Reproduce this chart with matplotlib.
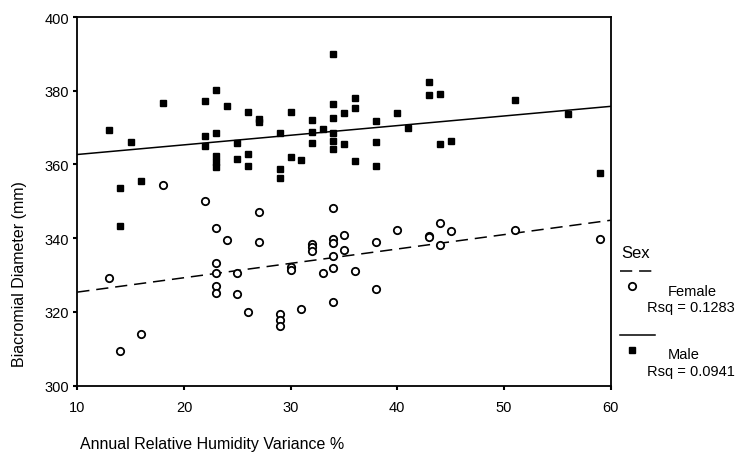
import numpy as np
import matplotlib
matplotlib.use("Agg")
import matplotlib.pyplot as plt
from matplotlib.lines import Line2D

plt.rcParams['font.family'] = ['Liberation Sans', 'DejaVu Sans']

# --- data ---
male_x = [13, 15, 18, 22, 23, 24, 26, 27, 27, 30, 32, 33,
          22, 22, 23, 23, 23, 23, 25, 25, 26, 26, 29, 29, 29, 30, 31, 32, 32,
          14, 16, 14,
          34, 34, 34, 35, 36, 36, 34, 34, 34, 35, 36, 38, 38, 38,
          40, 41, 43, 43, 44, 44, 45, 51, 56, 59]
male_y = [369.4, 366.0, 376.8, 377.2, 380.2, 375.9, 374.2, 372.4, 371.4, 374.2, 372.1, 369.6,
          367.7, 365.1, 368.5, 362.2, 360.8, 359.4, 365.9, 361.4, 362.8, 359.5, 368.6, 358.8, 356.3,
          362.1, 361.1, 368.8, 365.7,
          353.5, 355.6, 343.4,
          390.1, 376.3, 372.7, 373.9, 378.1, 375.4, 368.6, 366.5, 364.1, 365.5, 361.0, 371.8, 366.0, 359.5,
          373.9, 370.0, 382.3, 378.8, 379.2, 365.5, 366.5, 377.4, 373.8, 357.8]

female_x = [18, 22, 27, 23, 24, 27, 32, 32, 32, 13, 23, 23, 25, 30, 30, 33,
            23, 23, 25, 26, 29, 29, 29, 31, 16, 14,
            34, 34, 34, 35, 34, 35, 34, 36, 38, 38, 34,
            40, 43, 43, 44, 44, 45, 51, 59]
female_y = [354.5, 350.2, 347.2, 342.8, 339.6, 338.9, 338.5, 337.6, 336.5, 329.3, 333.2, 330.6,
            330.6, 332.2, 331.5, 330.7, 327.0, 325.2, 324.9, 320.0, 319.4, 317.8, 316.2, 320.8,
            313.9, 309.3,
            348.2, 339.8, 338.6, 340.8, 335.3, 336.8, 332.0, 331.1, 339.0, 326.1, 322.6,
            342.2, 340.7, 340.3, 344.0, 338.2, 341.9, 342.1, 339.8]

rsq_labels = ["Rsq = 0.1283", "Rsq = 0.0941"]
x_ticks = [10, 20, 30, 40, 50, 60]
y_ticks = [300, 320, 340, 360, 380, 400]

W, H = 755, 464
fig = plt.figure(figsize=(W / 100, H / 100), dpi=100)
ax = fig.add_axes([77.3 / W, 1 - 386.7 / H, (610.5 - 77.3) / W, (386.7 - 18.0) / H])


def px(x, y):
    # pixel position -> figure fraction
    return x / W, 1 - y / H


# fitted lines over the full x range
xs = np.array([x_ticks[0], x_ticks[-1]])
fb, fa = np.polyfit(female_x, female_y, 1)
mb, ma = np.polyfit(male_x, male_y, 1)
ax.plot(xs, fa + fb * xs, color='black', lw=1.1, ls=(0, (8, 4.5)))
ax.plot(xs, ma + mb * xs, color='black', lw=1.1)

ax.plot(female_x, female_y, 'o', ms=5.3, mfc='white', mec='black', mew=1.3, ls='none')
ax.plot(male_x, male_y, 's', ms=4.6, color='black', ls='none')

ax.set_xlim(10, 60)
ax.set_ylim(300, 400)
ax.set_xticks(x_ticks)
ax.set_yticks(y_ticks)
ax.tick_params(direction='out', length=3, width=1.5, labelsize=10.5)
ax.tick_params(axis='x', pad=7)
ax.tick_params(axis='y', pad=3)
for s in ax.spines.values():
    s.set_linewidth(1.3)

# axis titles sit off-centre in the original
fig.text(*px(20, 274), "Biacromial Diameter (mm)", rotation=90, ha='center', va='center', fontsize=11.5)
fig.text(*px(80, 445), "Annual Relative Humidity Variance %", ha='left', va='center', fontsize=11.5)

# legend drawn by hand on the right
fig.text(*px(621, 254), "Sex", ha='left', va='center', fontsize=12)
fig.add_artist(Line2D([620 / W, 655 / W], [1 - 272 / H] * 2, color='black', lw=1.1, ls=(0, (8, 4.5))))
fig.add_artist(Line2D([631.7 / W], [1 - 286.7 / H], marker='o', ms=5.3, mfc='white', mec='black', mew=1.3))
fig.text(*px(668, 292), "Female", ha='left', va='center', fontsize=10.5)
fig.text(*px(647, 308), rsq_labels[0], ha='left', va='center', fontsize=10.5)
fig.add_artist(Line2D([620 / W, 655 / W], [1 - 336 / H] * 2, color='black', lw=1.1))
fig.add_artist(Line2D([631.7 / W], [1 - 351 / H], marker='s', ms=4.6, color='black'))
fig.text(*px(668, 355), "Male", ha='left', va='center', fontsize=10.5)
fig.text(*px(647, 372), rsq_labels[1], ha='left', va='center', fontsize=10.5)

fig.savefig("out.png", dpi=100)
